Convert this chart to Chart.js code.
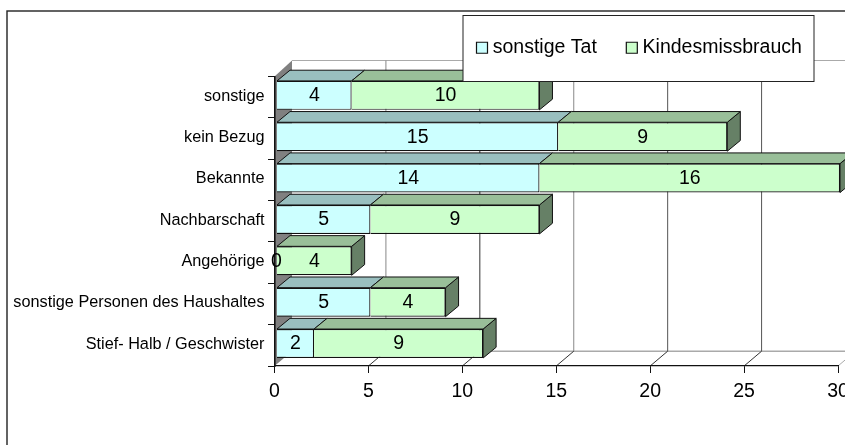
<!DOCTYPE html>
<html><head><meta charset="utf-8">
<style>html,body{margin:0;padding:0;background:#fff;overflow:hidden}canvas{display:block}</style>
<script src="https://cdn.jsdelivr.net/npm/chart.js@4"></script></head>
<body><canvas id="c" width="845" height="445"></canvas>
<script>
const categories = ["sonstige","kein Bezug","Bekannte","Nachbarschaft","Angehörige","sonstige Personen des Haushaltes","Stief- Halb / Geschwister"];
const sonstigeTat = [4,15,14,5,0,5,2];
const kindesmissbrauch = [10,9,16,9,4,4,9];
const xTicks = [0,5,10,15,20,25,30];

const FONT = '"Liberation Sans", Arial, sans-serif';
const WALL_DX = 17.5, WALL_DY = 14.8, WALL_TOP = 60.5;
const BAR_DX = 13, BAR_DY = 10.7, SHIFT_X = 2, SHIFT_Y = -1.8;
const TOPS = ['#99BFBF','#99BF99'], SIDES = ['#668080','#668066'];

function poly(ctx, pts, fill){
  ctx.beginPath(); pts.forEach((p,i)=> i?ctx.lineTo(p[0],p[1]):ctx.moveTo(p[0],p[1])); ctx.closePath();
  ctx.fillStyle = fill; ctx.fill(); ctx.strokeStyle='#111'; ctx.lineWidth=1; ctx.stroke();
}
const scene = {
  id:'scene',
  beforeLayout(chart){
    const lg = chart.legend;
    lg._layers = () => [{z:100, draw(a){
      const c = chart.ctx; c.save(); c.fillStyle='#fff'; c.strokeStyle='#222'; c.lineWidth=1;
      c.fillRect(463,15.5,351,66); c.strokeRect(463,15.5,351,66); c.restore();
      lg.draw(a);
    }}];
  },
  afterLayout(chart){
    const lg = chart.legend;
    lg.left = 447; lg.right = 845; lg.top = 4; lg.bottom = 86; lg.width = 398; lg.height = 82;
  },
  beforeDraw(chart){
    const c = chart.ctx, a = chart.chartArea, x = chart.scales.x;
    c.save();
    c.fillStyle='#fff'; c.fillRect(0,0,845,445);
    c.strokeStyle='#222'; c.lineWidth=1.4; c.strokeRect(7,11,900,500);
    c.fillStyle='#808080';
    c.beginPath(); c.moveTo(a.left,a.top); c.lineTo(a.left+WALL_DX,WALL_TOP); c.lineTo(a.left+WALL_DX,a.bottom-WALL_DY); c.lineTo(a.left,a.bottom); c.closePath(); c.fill();
    c.strokeStyle='#aaa'; c.lineWidth=1.2;
    c.beginPath(); c.moveTo(a.left+WALL_DX,WALL_TOP); c.lineTo(845,WALL_TOP); c.stroke();
    c.lineWidth=1.6;
    c.beginPath(); c.moveTo(a.left+WALL_DX,a.bottom-WALL_DY); c.lineTo(845,a.bottom-WALL_DY); c.stroke();
    x.ticks.forEach((t,i)=>{
      const px = x.getPixelForTick(i);
      if(t.value>0){
        c.strokeStyle = t.value===5||t.value===15 ? '#888' : t.value===10 ? '#333' : '#555'; c.lineWidth=1;
        c.beginPath(); c.moveTo(px+WALL_DX,WALL_TOP); c.lineTo(px+WALL_DX,a.bottom-WALL_DY); c.stroke();
        c.strokeStyle = t.value===30 ? '#aaa' : '#333';
        c.beginPath(); c.moveTo(px,a.bottom); c.lineTo(px+WALL_DX,a.bottom-WALL_DY); c.stroke();
      }
    });
    c.restore();
  },
  beforeDatasetsDraw(chart){
    const c = chart.ctx;
    c.save(); c.translate(SHIFT_X,SHIFT_Y);
    chart.data.datasets.forEach((ds,d)=>{
      chart.getDatasetMeta(d).data.forEach((el,i)=>{
        if(!ds.data[i]) return;
        const p = el.getProps(['x','y','base','height'],true);
        const top = p.y-p.height/2, bot = p.y+p.height/2;
        if(d===chart.data.datasets.length-1)
          poly(c,[[p.x,top],[p.x+BAR_DX,top-BAR_DY],[p.x+BAR_DX,bot-BAR_DY],[p.x,bot]],SIDES[d]);
        poly(c,[[p.base,top],[p.base+BAR_DX,top-BAR_DY],[p.x+BAR_DX,top-BAR_DY],[p.x,top]],TOPS[d]);
      });
    });
  },
  afterDatasetsDraw(chart){
    const c = chart.ctx;
    c.font = '19.5px '+FONT; c.fillStyle='#000'; c.textAlign='center'; c.textBaseline='middle';
    chart.data.datasets.forEach((ds,d)=>{
      chart.getDatasetMeta(d).data.forEach((el,i)=>{
        const p = el.getProps(['x','y','base'],true);
        c.fillText(String(ds.data[i]),(p.x+p.base)/2,p.y+0.5);
      });
    });
    c.restore();
  }
};
new Chart(document.getElementById('c'),{
  type:'bar',
  data:{labels:categories,datasets:[
    {label:'sonstige Tat',data:sonstigeTat,backgroundColor:'#CCFFFF',borderColor:'#111',borderWidth:1.2,clip:false,barPercentage:0.7,categoryPercentage:1},
    {label:'Kindesmissbrauch',data:kindesmissbrauch,backgroundColor:'#CCFFCC',borderColor:'#111',borderWidth:1.2,clip:false,barPercentage:0.7,categoryPercentage:1}
  ]},
  options:{
    indexAxis:'y',responsive:false,animation:false,devicePixelRatio:1,
    layout:{padding:{top:13,right:7,left:0,bottom:0}},
    plugins:{
      tooltip:{enabled:false},
      legend:{display:true,position:'top',align:'start',
        labels:{font:{family:FONT,size:19.5},color:'#000',usePointStyle:true,pointStyle:'rect',boxWidth:2,boxHeight:11,padding:34}}
    },
    scales:{
      x:{stacked:true,min:0,max:30,
        afterBuildTicks(s){ s.ticks = xTicks.map(v=>({value:v})); },
        afterFit(s){ s.height=79; s.paddingLeft=0; s.paddingRight=0; },
        grid:{drawOnChartArea:false,drawTicks:true,tickLength:7,color:'#111'},
        border:{display:true,color:'#111',width:1.2},
        ticks:{color:'#000',font:{family:FONT,size:19.5},maxRotation:0,autoSkip:false,padding:7}
      },
      y:{stacked:true,
        afterFit(s){ s.width=274.5; s.paddingTop=0; s.paddingBottom=0; },
        grid:{drawOnChartArea:false,drawTicks:true,tickLength:6.5,color:'#111'},
        border:{display:true,color:'#111',width:1.6},
        ticks:{color:'#000',font:{family:FONT,size:16.25},autoSkip:false,padding:3.5,labelOffset:-1}
      }
    }
  },
  plugins:[scene]
});
</script></body></html>
